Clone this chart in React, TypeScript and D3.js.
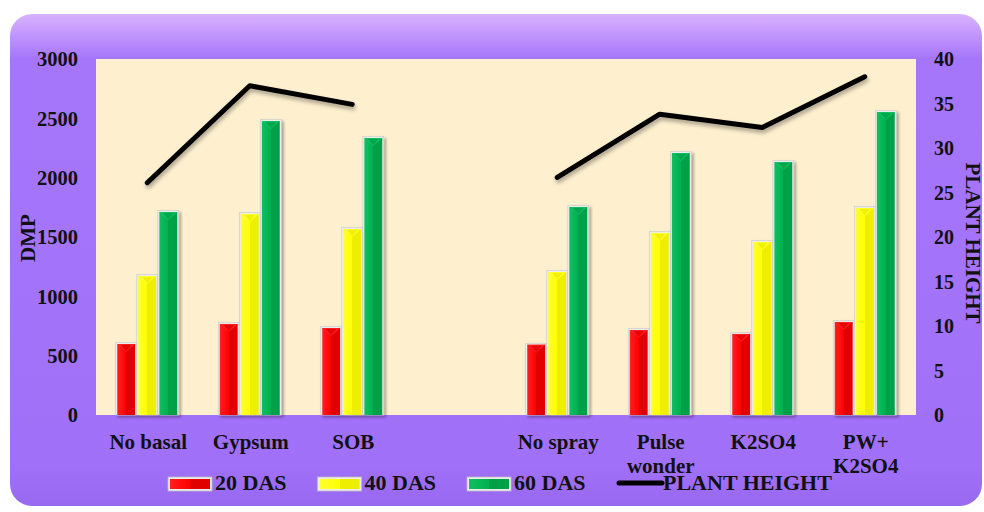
import React from "react";
import * as d3 from "d3";

const categories = ["No basal", "Gypsum", "SOB", "", "No spray", "Pulse wonder", "K2SO4", "PW+ K2SO4"];
const categoryLines = [["No basal"], ["Gypsum"], ["SOB"], [], ["No spray"], ["Pulse", "wonder"], ["K2SO4"], ["PW+", "K2SO4"]];
const seriesNames = ["20 DAS", "40 DAS", "60 DAS"];
const das20 = [598, 767, 733, null, 592, 716, 683, 784];
const das40 = [1171, 1694, 1567, null, 1205, 1534, 1458, 1744];
const das60 = [1710, 2477, 2334, null, 1753, 2208, 2132, 2553];
const plantHeight = [26.1, 37.0, 34.9, null, 26.7, 33.8, 32.3, 38.0];
const leftTicks = [0, 500, 1000, 1500, 2000, 2500, 3000];
const rightTicks = [0, 5, 10, 15, 20, 25, 30, 35, 40];

const W = 984;
const H = 512;
const plot = { left: 96, right: 916, top: 59, bottom: 415 };
const colors = [
  { light: "#FF2020", main: "#FF0000", dark: "#E00000" },
  { light: "#FFFF30", main: "#FFFF00", dark: "#EEEE00" },
  { light: "#10C060", main: "#00B050", dark: "#00A048" },
];

export default function App() {
  const x = d3.scaleBand<string>().domain(categories.map((c, i) => String(i))).range([plot.left, plot.right]);
  const inner = d3.scaleBand<string>().domain(seriesNames).range([-30, 30]).paddingInner(0.15);
  const yL = d3.scaleLinear().domain([0, 3000]).range([plot.bottom, plot.top]);
  const yR = d3.scaleLinear().domain([0, 40]).range([plot.bottom, plot.top]);
  const series = [das20, das40, das60];
  const cx = (i: number) => (x(String(i)) as number) + x.bandwidth() / 2;

  const line = d3
    .line<number | null>()
    .defined((d) => d != null)
    .x((_, i) => cx(i))
    .y((d) => yR(d as number));

  const font = "'Liberation Serif', 'Times New Roman', serif";

  return (
    <svg width={W} height={H} style={{ position: "absolute", left: 0, top: 0 }} fontFamily={font}>
      <defs>
        <linearGradient id="frame" x1="0" y1="0" x2="0" y2="1">
          <stop offset="0" stopColor="#D9B2FF" />
          <stop offset="0.09" stopColor="#A676FA" />
          <stop offset="0.92" stopColor="#A070F8" />
          <stop offset="1" stopColor="#9868F0" />
        </linearGradient>
        {colors.map((c, i) => (
          <linearGradient key={i} id={`bar${i}`} x1="0" y1="0" x2="1" y2="0">
            <stop offset="0" stopColor={c.light} />
            <stop offset="0.5" stopColor={c.main} />
            <stop offset="0.5" stopColor={c.dark} />
            <stop offset="1" stopColor={c.dark} />
          </linearGradient>
        ))}
        <filter id="shadow" x="-20%" y="-20%" width="140%" height="140%">
          <feDropShadow dx="2" dy="2" stdDeviation="1.5" floodColor="#000" floodOpacity="0.35" />
        </filter>
        <filter id="lshadow" x="-10%" y="-30%" width="120%" height="160%">
          <feDropShadow dx="1" dy="3" stdDeviation="2" floodColor="#000" floodOpacity="0.35" />
        </filter>
      </defs>
      <rect x={0} y={0} width={W} height={H} fill="#fff" />
      <rect x={10} y={14} width={972} height={492} rx={22} ry={22} fill="url(#frame)" />
      <rect x={plot.left} y={plot.top} width={plot.right - plot.left} height={plot.bottom - plot.top} fill="#FEF0CF" />

      {series.map((vals, s) =>
        vals.map((v, i) => {
          if (v == null) return null;
          const bx = cx(i) + (inner(seriesNames[s]) as number);
          const bw = inner.bandwidth();
          const by = yL(v);
          const bh = plot.bottom - by;
          return (
            <g key={`${s}-${i}`}>
              <rect x={bx - 1.5} y={by - 1.5} width={bw + 3} height={bh + 1.5} fill="#EDEDED" stroke="#C8C8C8" strokeWidth={0.6} filter="url(#shadow)" />
              <rect x={bx} y={by} width={bw} height={bh} fill={`url(#bar${s})`} />
              <polygon points={`${bx},${by} ${bx + bw},${by} ${bx + bw / 2},${by + bw * 0.45}`} fill={colors[s].light} opacity={0.9} />
              <polygon points={`${bx + bw * 0.2},${by + 1} ${bx + bw * 0.8},${by + 1} ${bx + bw / 2},${by + bw * 0.4}`} fill={colors[s].dark} opacity={0.8} />
            </g>
          );
        })
      )}

      <path d={line(plantHeight) || ""} fill="none" stroke="#000" strokeWidth={5} strokeLinejoin="round" strokeLinecap="round" filter="url(#lshadow)" />

      {leftTicks.map((t) => (
        <text key={t} x={78} y={yL(t)} dy="0.35em" textAnchor="end" fontSize={20.5} fontWeight="bold" fill="#111">
          {t}
        </text>
      ))}
      {rightTicks.map((t) => (
        <text key={t} x={934} y={yR(t)} dy="0.35em" textAnchor="start" fontSize={20} fontWeight="bold" fill="#111">
          {t}
        </text>
      ))}
      <text transform={`translate(35,238) rotate(-90)`} textAnchor="middle" fontSize={21} fontWeight="bold" fill="#111">
        DMP
      </text>
      <text transform={`translate(966,243) rotate(90)`} textAnchor="middle" fontSize={21} fontWeight="bold" fill="#111">
        PLANT HEIGHT
      </text>

      {categoryLines.map((lines, i) =>
        lines.map((l, k) => (
          <text key={`${i}-${k}`} x={cx(i) + 1} y={449 + k * 24} textAnchor="middle" fontSize={21} fontWeight="bold" fill="#111">
            {l}
          </text>
        ))
      )}

      {seriesNames.map((n, s) => {
        const lx = 168 + s * 149.5;
        return (
          <g key={n}>
            <rect x={lx} y={477} width={44} height={14} fill="#EDEDED" stroke="#BDBDBD" strokeWidth={0.8} />
            <rect x={lx + 2} y={479} width={40} height={10} fill={`url(#bar${s})`} />
            <text x={lx + 47} y={490} fontSize={22} fontWeight="bold" fill="#111">
              {n}
            </text>
          </g>
        );
      })}
      <line x1={619} x2={662} y1={483} y2={483} stroke="#000" strokeWidth={5} strokeLinecap="round" />
      <text x={663} y={490} fontSize={22} fontWeight="bold" fill="#111">
        PLANT HEIGHT
      </text>
    </svg>
  );
}
